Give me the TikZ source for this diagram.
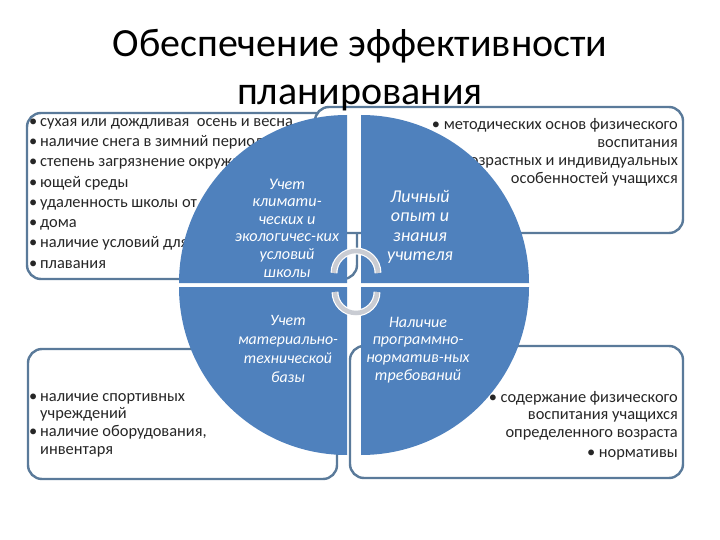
\documentclass[tikz,border=0pt]{standalone}
\usepackage{fontspec}
\setmainfont{Carlito}
\usetikzlibrary{arrows.meta}
\definecolor{sect}{HTML}{4F81BD}
\definecolor{boxline}{HTML}{5A7A9A}
\definecolor{arrowfill}{HTML}{C9CCD3}
\begin{document}
\begin{tikzpicture}[x=1pt,y=-1pt,
  boxst/.style={draw=boxline, line width=2.4pt, fill=white, rounded corners=14pt},
  sectst/.style={fill=sect},
  boxtext/.style={inner sep=0pt, font=\fontsize{16.4}{20.3}\selectfont, text=black!85},
  inner/.style={inner sep=0pt, text=white, align=center},
  cyclearrow/.style={draw=white, line width=1.2pt, double=arrowfill, double distance=4.5pt}]
\useasboundingbox (0,0) rectangle (720,540);
\fill[white] (0,0) rectangle (720,540);
% boxes
\draw[boxst] (27,113) rectangle (357,279);
\draw[boxst] (315,107) rectangle (683,233);
\draw[boxst] (28,349) rectangle (337,479);
\draw[boxst] (350,346) rectangle (683,478);
% box texts
\node[boxtext, anchor=north west, align=left] (tltext) at (29,118) {%
\makebox[11pt][l]{•}сухая или дождливая\ \ осень и весна\\
\makebox[11pt][l]{•}наличие снега в зимний период\\
\makebox[11pt][l]{•}степень загрязнение окружа-\\
\makebox[11pt][l]{•}ющей среды\\
\makebox[11pt][l]{•}удаленность школы от\\
\makebox[11pt][l]{•}дома\\
\makebox[11pt][l]{•}наличие условий для\\
\makebox[11pt][l]{•}плавания};
\node[boxtext, anchor=north east, align=right, font=\fontsize{16.4}{18.2}\selectfont] (trtext) at (678,118) {%
• методических основ физического\\
воспитания\\
• учета возрастных и индивидуальных\\
особенностей учащихся};
\node[boxtext, anchor=north west, align=left, font=\fontsize{16.4}{17.8}\selectfont] (bltext) at (29,393) {%
\makebox[11pt][l]{•}наличие спортивных\\
\hspace*{11pt}учреждений\\
\makebox[11pt][l]{•}наличие оборудования,\\
\hspace*{11pt}инвентаря};
\node[boxtext, anchor=north east, align=right, font=\fontsize{16.4}{17.6}\selectfont] (brtext) at (678,391) {%
• содержание физического\\
воспитания учащихся\\
определенного возраста\\[2pt]
• нормативы};
% circle sectors
\fill[sectst] (347,283) -- ++(-168,0) arc[start angle=180, end angle=270, radius=168] -- cycle;
\fill[sectst] (361,283) -- ++(0,-168) arc[start angle=270, end angle=360, radius=168] -- cycle;
\fill[sectst] (361,287) -- ++(168,0) arc[start angle=0, end angle=90, radius=168] -- cycle;
\fill[sectst] (347,287) -- ++(0,168) arc[start angle=90, end angle=180, radius=168] -- cycle;
% sector texts
\node[inner, font=\itshape\fontsize{16.2}{17.6}\selectfont] (q1) at (287,228) {Учет\\климати-\\ческих и\\экологичес-ких\\условий\\школы};
\node[inner, font=\itshape\fontsize{18}{19.5}\selectfont] (q2) at (420,227) {Личный\\опыт и\\знания\\учителя};
\node[inner, font=\itshape\fontsize{15.8}{19}\selectfont] (q3) at (288,349) {Учет\\материально-\\технической\\базы};
\node[inner, font=\itshape\fontsize{16}{17.7}\selectfont] (q4) at (418,350) {Наличие\\программно-\\норматив-ных\\требований};
% cycle arrows
\draw[cyclearrow] (334,273) arc[start angle=180, end angle=360, radius=22];
\draw[cyclearrow] (377,292) arc[start angle=0, end angle=180, radius=21];
% title
\node[inner sep=0pt, align=center, font=\fontsize{40}{48}\selectfont] (title) at (360,70) {Обеспечение эффективности\\планирования};
\end{tikzpicture}
\end{document}
